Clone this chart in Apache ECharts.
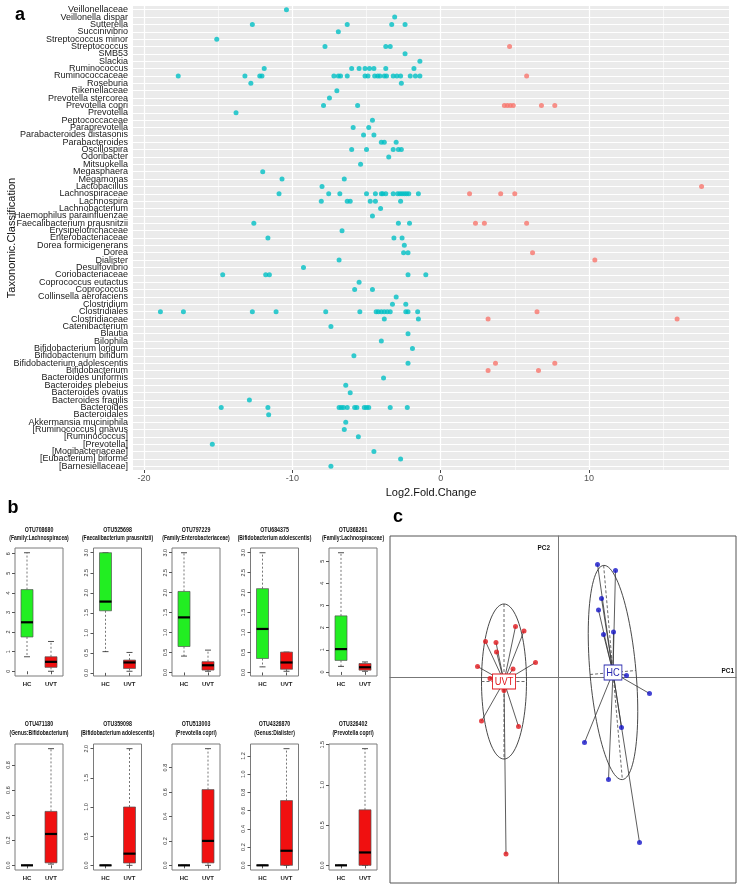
<!DOCTYPE html>
<html><head><meta charset="utf-8">
<script src="https://cdn.jsdelivr.net/npm/echarts@6/dist/echarts.min.js"></script>
<style>html,body{margin:0;padding:0;background:#fff}#c{width:738px;height:886px}</style>
</head><body><div id="c"></div>
<script>
// ---------------- Panel a data ----------------
const taxa = ['Veillonellaceae','Veillonella dispar','Sutterella','Succinivibrio','Streptococcus minor','Streptococcus','SMB53','Slackia','Ruminococcus','Ruminococcaceae','Roseburia','Rikenellaceae','Prevotella stercorea','Prevotella copri','Prevotella','Peptococcaceae','Paraprevotella','Parabacteroides distasonis','Parabacteroides','Oscillospira','Odoribacter','Mitsuokella','Megasphaera','Megamonas','Lactobacillus','Lachnospiraceae','Lachnospira','Lachnobacterium','Haemophilus parainfluenzae','Faecalibacterium prausnitzii','Erysipelotrichaceae','Enterobacteriaceae','Dorea formicigenerans','Dorea','Dialister','Desulfovibrio','Coriobacteriaceae','Coprococcus eutactus','Coprococcus','Collinsella aerofaciens','Clostridium','Clostridiales','Clostridiaceae','Catenibacterium','Blautia','Bilophila','Bifidobacterium longum','Bifidobacterium bifidum','Bifidobacterium adolescentis','Bifidobacterium','Bacteroides uniformis','Bacteroides plebeius','Bacteroides ovatus','Bacteroides fragilis','Bacteroides','Bacteroidales','Akkermansia muciniphila','[Ruminococcus] gnavus','[Ruminococcus]','[Prevotella]','[Mogibacteriaceae]','[Eubacterium] biforme','[Barnesiellaceae]'];

const decreasedLFC = [
 [-10.4],[-3.1],[-12.7,-6.3,-3.3,-2.4],[-6.9],[-15.1],[-7.8,-3.7,-3.4],[-2.4],[-1.4],
 [-11.9,-6.0,-5.5,-5.1,-4.8,-4.5,-3.7,-1.8],
 [-17.7,-13.2,-12.2,-12.05,-7.2,-6.9,-6.75,-6.3,-5.1,-4.9,-4.45,-4.25,-4.1,-3.8,-3.65,-3.2,-2.95,-2.7,-2.05,-1.7,-1.4],
 [-12.8,-2.65],[-7.0],[-7.5],[-7.9,-5.6],[-13.8],[-4.6],[-5.9,-4.85],[-5.2,-4.5],[-4.0,-3.8,-3.0],
 [-6.0,-5.0,-3.2,-2.85,-2.65],[-3.5],[-5.4],[-12.0],[-10.7,-6.5],[-8.0],
 [-10.9,-7.55,-6.8,-5.0,-4.4,-4.0,-3.9,-3.7,-3.2,-2.9,-2.75,-2.6,-2.45,-2.3,-2.15,-1.5],
 [-8.05,-6.3,-6.1,-4.75,-4.4,-2.7],[-4.05],[-4.6],[-12.6,-2.85,-2.1],[-6.65],[-11.65,-3.15,-2.6],
 [-2.45],[-2.5,-2.2],[-6.85],[-9.25],[-14.7,-11.8,-11.55,-2.2,-1.0],[-5.5],[-5.8,-4.6],[-3.0],
 [-3.25,-2.35],
 [-18.9,-17.35,-12.7,-11.1,-7.75,-5.45,-4.35,-4.2,-4.0,-3.8,-3.6,-3.4,-2.35,-2.2,-1.55],
 [-3.8,-1.5],[-7.4],[-2.2],[-4.0],[-1.9],[-5.85],[-2.2],[],[-3.85],[-6.4],[-6.1],[-12.9],
 [-14.8,-11.65,-6.85,-6.7,-6.55,-6.3,-5.8,-5.65,-5.15,-5.0,-4.85,-3.4,-2.25],
 [-11.6],[-6.4],[-6.5],[-5.55],[-15.4],[-4.5],[-2.7],[-7.4]
];

const increasedLFC = {
 'Streptococcus':[4.65],
 'Ruminococcaceae':[5.8],
 'Prevotella copri':[4.3,4.5,4.7,4.9,6.8,7.7],
 'Lactobacillus':[17.6],
 'Lachnospiraceae':[1.95,4.05,5.0],
 'Faecalibacterium prausnitzii':[2.35,2.95,5.8],
 'Dorea':[6.2],
 'Dialister':[10.4],
 'Clostridiales':[6.5],
 'Clostridiaceae':[3.2,15.95],
 'Bifidobacterium adolescentis':[3.7,7.7],
 'Bifidobacterium':[3.2,6.6]
};

const lfcTicks = [-20,-10,0,10];
const lfcMinorGrid = [-15,-5,5,15];

// ---------------- Panel b data ----------------
const boxTitles = [
 ['OTU708680','(Family:Lachnospiracea)'],
 ['OTU525698','(Faecalibacterium prausnitzii)'],
 ['OTU797229','(Family:Enterobacteriaceae)'],
 ['OTU684375','(Bifidobacterium adolescentis)'],
 ['OTU368261','(Family:Lachnospiraceae)'],
 ['OTU471180','(Genus:Bifidobacterium)'],
 ['OTU359098','(Bifidobacterium adolescentis)'],
 ['OTU513003','(Prevotella copri)'],
 ['OTU4326870','(Genus:Dialister)'],
 ['OTU326402','(Prevotella copri)']
];
const boxGroups = ['HC','UVT'];
// [min, Q1, median, Q3, max]
const boxHC = [
 [0.74,1.75,2.5,4.17,6.05],
 [0.53,1.55,1.78,3.0,3.0],
 [0.41,0.65,1.38,2.03,3.0],
 [0.14,0.35,1.09,2.1,3.0],
 [0.25,0.52,1.03,2.53,5.38],
 [0,0,0,0,0],[0,0,0,0,0],[0,0,0,0,0],[0,0,0,0,0],[0,0,0,0,0]
];
const boxUVT = [
 [0,0.2,0.48,0.74,1.52],
 [0.04,0.11,0.26,0.32,0.51],
 [0.03,0.06,0.18,0.27,0.56],
 [0.03,0.08,0.25,0.51,0.51],
 [0.03,0.08,0.21,0.38,0.45],
 [0.01,0.02,0.25,0.43,0.93],
 [0,0.04,0.2,1.0,2.0],
 [0,0.02,0.2,0.62,0.955],
 [0,0,0.16,0.71,1.28],
 [0,0,0.16,0.69,1.45]
];
const boxTicks = [
 [0,1,2,3,4,5,6],
 [0,0.5,1,1.5,2,2.5,3],
 [0,0.5,1,1.5,2,2.5,3],
 [0,0.5,1,1.5,2,2.5,3],
 [0,1,2,3,4,5],
 [0,0.2,0.4,0.6,0.8],
 [0,0.5,1,1.5,2],
 [0,0.2,0.4,0.6,0.8],
 [0,0.2,0.4,0.6,0.8,1,1.2],
 [0,0.5,1,1.5]
];

// ---------------- Panel c data ----------------
const pcaUVT = [[-0.85,1.01],[-0.68,0.92],[-1.45,0.71],[-1.24,0.69],[-1.23,0.50],[-0.45,0.29],[-1.61,0.21],[-0.90,0.16],[-1.36,-0.03],[-1.08,-0.27],[-1.53,-0.88],[-0.79,-0.99],[-1.04,-3.54]];
const pcaHC = [[0.79,2.25],[1.15,2.13],[0.87,1.57],[0.81,1.34],[0.91,0.85],[1.11,0.90],[1.37,0.03],[1.83,-0.33],[1.27,-1.01],[0.53,-1.31],[1.01,-2.05],[1.63,-3.31]];
const centerUVT = [-1.08,-0.09];
const centerHC = [1.10,0.09];
// [semi-axis PC1, semi-axis PC2, tilt in degrees]
const ellipseUVT = [0.45,1.55,0];
const ellipseHC = [0.46,2.15,5];

// ---------------- Build chart ----------------
const SANS = "'Liberation Sans', Arial, sans-serif";
const NARROW = "'Liberation Sans Narrow', 'Arial Narrow', 'Liberation Sans', sans-serif";
const chart = echarts.init(document.getElementById('c'), null, {renderer:'canvas', width:738, height:886});

const grids = [], xAxes = [], yAxes = [], series = [], graphics = [];

// Panel a
grids.push({left:133, right:9, top:6, bottom:416, show:true, backgroundColor:'#EBEBEB', borderWidth:0, borderColor:'transparent', outerBoundsMode:'none', containLabel:false});
xAxes.push({type:'value', gridIndex:0, min:-20.75, max:19.45,
  name:'Log2.Fold.Change', nameLocation:'middle', nameGap:16,
  nameTextStyle:{fontSize:11, color:'#111', fontFamily:SANS},
  axisLine:{show:false},
  axisTick:{show:true, length:3, customValues:lfcTicks, lineStyle:{color:'#444'}},
  axisLabel:{customValues:lfcTicks, fontSize:9, color:'#555', margin:4, fontFamily:SANS},
  splitLine:{show:false}});
yAxes.push({type:'category', gridIndex:0, data:taxa, inverse:true,
  axisLine:{show:false},
  axisTick:{show:true, length:3, alignWithLabel:true, lineStyle:{color:'#444'}},
  axisLabel:{interval:0, fontSize:9, color:'#1a1a1a', margin:5, fontFamily:SANS, hideOverlap:false},
  splitLine:{show:false}});

const cyanData = [], redData = [];
taxa.forEach((t,i) => {
  decreasedLFC[i].forEach(v => cyanData.push([v, t]));
  (increasedLFC[t] || []).forEach(v => redData.push([v, t]));
});
series.push({type:'scatter', xAxisIndex:0, yAxisIndex:0, data:cyanData, symbolSize:5, z:3,
  itemStyle:{color:'#00BFC4'},
  markLine:{silent:true, symbol:'none', z:1, animation:false, label:{show:false},
    lineStyle:{color:'#FFFFFF', width:1, type:'solid'},
    data: taxa.map((t,i) => ({yAxis:i}))}});
series.push({type:'scatter', xAxisIndex:0, yAxisIndex:0, data:redData, symbolSize:5, z:3,
  itemStyle:{color:'#F8766D'},
  markLine:{silent:true, symbol:'none', z:1, animation:false, label:{show:false},
    lineStyle:{color:'#FFFFFF', type:'solid'},
    data: lfcTicks.map(v => ({xAxis:v, lineStyle:{width:1.2}})).concat(lfcMinorGrid.map(v => ({xAxis:v, lineStyle:{width:0.6}})))}});

graphics.push({type:'text', x:12, y:238, rotation:Math.PI/2, style:{text:'Taxonomic.Classification', font:'11px '+SANS, fill:'#111', align:'center', verticalAlign:'middle'}});
graphics.push({type:'text', x:20, y:15, style:{text:'a', font:'bold 18px '+SANS, fill:'#000', align:'center', verticalAlign:'middle'}});
graphics.push({type:'text', x:13, y:508, style:{text:'b', font:'bold 18px '+SANS, fill:'#000', align:'center', verticalAlign:'middle'}});
graphics.push({type:'text', x:398, y:517, style:{text:'c', font:'bold 18px '+SANS, fill:'#000', align:'center', verticalAlign:'middle'}});

// Panel b
function renderBox(params, api){
  const i = api.value(0);
  const v = [1,2,3,4,5].map(d => api.value(d));
  const p = v.map(y => api.coord([i, y]));
  const band = api.size([1,0])[0];
  const half = band*0.25, cap = band*0.125;
  const cx = p[0][0];
  const fill = i === 0 ? '#22EE22' : '#F01010';
  const dash = {stroke:'#555', lineWidth:0.8, lineDash:[2,2]};
  const solid = {stroke:'#222', lineWidth:0.8};
  return {type:'group', children:[
    {type:'line', shape:{x1:cx, y1:p[3][1], x2:cx, y2:p[4][1]}, style:dash},
    {type:'line', shape:{x1:cx, y1:p[1][1], x2:cx, y2:p[0][1]}, style:dash},
    {type:'line', shape:{x1:cx-cap, y1:p[4][1], x2:cx+cap, y2:p[4][1]}, style:solid},
    {type:'line', shape:{x1:cx-cap, y1:p[0][1], x2:cx+cap, y2:p[0][1]}, style:solid},
    {type:'rect', shape:{x:cx-half, y:p[3][1], width:2*half, height:p[1][1]-p[3][1]}, style:{fill:fill, stroke:'#555', lineWidth:0.7}},
    {type:'line', shape:{x1:cx-half, y1:p[2][1], x2:cx+half, y2:p[2][1]}, style:{stroke:'#000', lineWidth:2.2}}
  ]};
}

for (let k = 0; k < 10; k++){
  const gi = grids.length;
  const row = Math.floor(k/5), col = k % 5;
  const left = 15 + col*78.5;
  const top = row ? 744 : 548;
  const height = row ? 126 : 128;
  grids.push({left:left, top:top, width:48, height:height, show:true, borderColor:'#7a7a7a', borderWidth:1, backgroundColor:'transparent', outerBoundsMode:'none', containLabel:false});
  const all = boxHC[k].concat(boxUVT[k]);
  const lo = Math.min.apply(null, all), hi = Math.max.apply(null, all);
  const pad = (hi - lo) * 0.04;
  const frac = boxTicks[k].some(t => Math.round(t) !== t);
  xAxes.push({type:'category', gridIndex:gi, data:boxGroups,
    axisLine:{show:false},
    axisTick:{show:true, length:3, alignWithLabel:true, lineStyle:{color:'#555'}},
    axisLabel:{fontSize:6, fontWeight:'bold', fontFamily:NARROW, color:'#222', margin:5},
    splitLine:{show:false}});
  yAxes.push({type:'value', gridIndex:gi, min:lo-pad, max:hi+pad,
    axisLine:{show:false},
    axisTick:{show:true, length:3, customValues:boxTicks[k], lineStyle:{color:'#555'}},
    axisLabel:{customValues:boxTicks[k], rotate:90, fontSize:5.5, fontFamily:NARROW, color:'#333', margin:4,
      formatter: v => frac ? Number(v).toFixed(1) : Number(v).toFixed(0)},
    splitLine:{show:false}});
  series.push({type:'custom', xAxisIndex:gi, yAxisIndex:gi,
    data:[[0].concat(boxHC[k]), [1].concat(boxUVT[k])],
    encode:{x:0, y:[1,2,3,4,5]}, renderItem:renderBox});
  const cxText = left + 24;
  const ty = row ? 724 : 530;
  graphics.push({type:'text', x:cxText, y:ty, scaleX:0.75, style:{text:boxTitles[k][0], font:'bold 7px '+SANS, fill:'#111', align:'center', verticalAlign:'middle'}});
  graphics.push({type:'text', x:cxText, y:ty + (row ? 9 : 8), scaleX:0.72, style:{text:boxTitles[k][1], font:'bold 7px '+SANS, fill:'#111', align:'center', verticalAlign:'middle'}});
}

// Panel c
const gc = grids.length;
grids.push({left:390, top:536, width:346, height:347, show:true, borderColor:'#555', borderWidth:1, backgroundColor:'transparent', outerBoundsMode:'none', containLabel:false});
xAxes.push({type:'value', gridIndex:gc, min:-3.36, max:3.56,
  axisLine:{show:true, onZero:true, lineStyle:{color:'#777', width:1}},
  axisTick:{show:false}, axisLabel:{show:false}, splitLine:{show:false}});
yAxes.push({type:'value', gridIndex:gc, min:-4.12, max:2.82,
  axisLine:{show:true, onZero:true, lineStyle:{color:'#777', width:1}},
  axisTick:{show:false}, axisLabel:{show:false}, splitLine:{show:false}});

const links = pcaUVT.map(p => [p[0], p[1], centerUVT[0], centerUVT[1]])
  .concat(pcaHC.map(p => [p[0], p[1], centerHC[0], centerHC[1]]));
series.push({type:'custom', xAxisIndex:gc, yAxisIndex:gc, z:2, data:links,
  encode:{x:[0,2], y:[1,3]},
  renderItem:(params, api) => {
    const a = api.coord([api.value(0), api.value(1)]);
    const b = api.coord([api.value(2), api.value(3)]);
    return {type:'line', shape:{x1:a[0], y1:a[1], x2:b[0], y2:b[1]}, style:{stroke:'#333', lineWidth:0.8}};
  }});

const ellipses = [centerUVT.concat(ellipseUVT), centerHC.concat(ellipseHC)];
series.push({type:'custom', xAxisIndex:gc, yAxisIndex:gc, z:2, data:ellipses,
  encode:{x:0, y:1},
  renderItem:(params, api) => {
    const c = api.coord([api.value(0), api.value(1)]);
    const sx = api.size([api.value(2), 0])[0];
    const sy = api.size([0, api.value(3)])[1];
    const th = api.value(4) * Math.PI / 180;
    const ct = Math.cos(th), st = Math.sin(th);
    const tr = (x, y) => [c[0] + x*ct + y*st, c[1] - x*st + y*ct];
    const pts = [];
    for (let j = 0; j < 96; j++){
      const t = j / 96 * Math.PI * 2;
      pts.push(tr(sx*Math.cos(t), sy*Math.sin(t)));
    }
    const m1 = tr(0, -sy), m2 = tr(0, sy), n1 = tr(-sx, 0), n2 = tr(sx, 0);
    const dash = {stroke:'#444', lineWidth:0.8, lineDash:[3,2]};
    return {type:'group', children:[
      {type:'polygon', shape:{points:pts}, style:{fill:'none', stroke:'#333', lineWidth:0.9}},
      {type:'line', shape:{x1:m1[0], y1:m1[1], x2:m2[0], y2:m2[1]}, style:dash},
      {type:'line', shape:{x1:n1[0], y1:n1[1], x2:n2[0], y2:n2[1]}, style:dash}
    ]};
  }});

series.push({type:'scatter', xAxisIndex:gc, yAxisIndex:gc, z:3, data:pcaUVT, symbolSize:5, itemStyle:{color:'#E0161C'}});
series.push({type:'scatter', xAxisIndex:gc, yAxisIndex:gc, z:3, data:pcaHC, symbolSize:5, itemStyle:{color:'#1414C8'}});

const classLabels = [[centerUVT[0], centerUVT[1], 'UVT', '#E0161C'], [centerHC[0], centerHC[1], 'HC', '#2A2AB0']];
series.push({type:'custom', xAxisIndex:gc, yAxisIndex:gc, z:5, data:classLabels,
  encode:{x:0, y:1},
  renderItem:(params, api) => {
    const d = classLabels[params.dataIndex];
    const c = api.coord([d[0], d[1]]);
    return {type:'text', x:c[0], y:c[1], scaleX:0.85, style:{text:d[2], fill:d[3], font:'11px '+SANS, align:'center', verticalAlign:'middle',
      backgroundColor:'#fff', borderColor:d[3], borderWidth:1, padding:[2,2,1,2]}};
  }});

graphics.push({type:'text', x:550, y:548, scaleX:0.8, style:{text:'PC2', font:'bold 8px '+SANS, fill:'#111', align:'right', verticalAlign:'middle'}});
graphics.push({type:'text', x:734, y:671, scaleX:0.8, style:{text:'PC1', font:'bold 8px '+SANS, fill:'#111', align:'right', verticalAlign:'middle'}});

chart.setOption({
  animation:false,
  backgroundColor:'#fff',
  grid:grids, xAxis:xAxes, yAxis:yAxes, series:series, graphic:graphics
});
</script>
</body></html>
